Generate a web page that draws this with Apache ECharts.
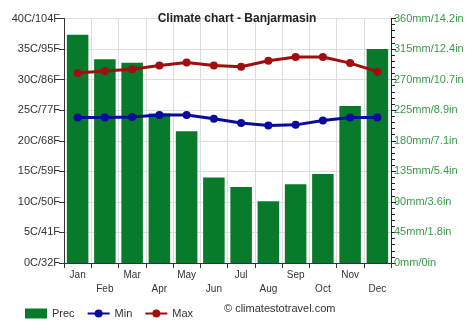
<!DOCTYPE html>
<html><head><meta charset="utf-8">
<script src="https://cdn.jsdelivr.net/npm/echarts@6/dist/echarts.min.js"></script>
<style>html,body{margin:0;padding:0;background:#fff}#c{width:474px;height:331px}</style>
</head><body><div id="c"></div>
<script>
const months = ['Jan','Feb','Mar','Apr','May','Jun','Jul','Aug','Sep','Oct','Nov','Dec'];
const prec = [336, 300, 295, 220, 194, 126, 112, 91, 116, 131, 231, 315];
const tMin = [23.8, 23.8, 23.9, 24.2, 24.2, 23.6, 22.9, 22.5, 22.6, 23.3, 23.8, 23.8];
const tMax = [31.1, 31.4, 31.7, 32.3, 32.8, 32.3, 32.1, 33.1, 33.7, 33.7, 32.7, 31.3];
const tempTicks = ['0C/32F','5C/41F','10C/50F','15C/59F','20C/68F','25C/77F','30C/86F','35C/95F','40C/104F'];
const precTicks = ['0mm/0in','45mm/1.8in','90mm/3.6in','135mm/5.4in','180mm/7.1in','225mm/8.9in','270mm/10.7in','315mm/12.4in','360mm/14.2in'];

const chart = echarts.init(document.getElementById('c'));
const font = 'Liberation Sans, Arial, sans-serif';
chart.setOption({
  animation: false,
  textStyle: {fontFamily: font},
  title: {text: 'Climate chart - Banjarmasin', left: 'center', top: 8,
    textStyle: {fontSize: 12, fontWeight: 'bold', color: '#222', fontFamily: font}},
  grid: {left: 64, right: 83, top: 18.5, bottom: 68},
  legend: {left: 20, top: 303, itemGap: 12, itemWidth: 22, itemHeight: 10,
    textStyle: {fontSize: 11, color: '#333', fontFamily: font},
    data: [{name: 'Prec', icon: 'rect'}, {name: 'Min'}, {name: 'Max'}]},
  graphic: [{type: 'text', left: 224, top: 303,
    style: {text: '© climatestotravel.com', fontSize: 11, fill: '#333', fontFamily: font}}],
  xAxis: {type: 'category', data: months, boundaryGap: true,
    axisLine: {lineStyle: {color: '#333'}},
    axisTick: {show: true, alignWithLabel: false, length: 5, lineStyle: {color: '#333'}},
    splitLine: {show: true, lineStyle: {color: '#ddd'}},
    axisLabel: {interval: 0, fontSize: 10, color: '#333', lineHeight: 14, margin: 5,
      formatter: (v, i) => (i % 2 === 1 ? '\n' + v : v)}},
  yAxis: [
    {type: 'value', min: 0, max: 40, interval: 5, position: 'left',
      axisLine: {show: true, lineStyle: {color: '#333'}},
      axisTick: {show: true, length: 5, lineStyle: {color: '#333'}},
      splitLine: {lineStyle: {color: '#ddd'}},
      axisLabel: {fontSize: 11, color: '#333', margin: 4,
        formatter: v => tempTicks[Math.round(v / 5)]}},
    {type: 'value', min: 0, max: 360, interval: 45, position: 'right',
      axisLine: {show: true, lineStyle: {color: '#222'}},
      axisTick: {show: true, length: 5, lineStyle: {color: '#222'}},
      minorTick: {show: true, splitNumber: 5, length: 4, lineStyle: {color: '#222'}},
      splitLine: {show: false},
      axisLabel: {fontSize: 11, color: '#3a9a4a', margin: 3,
        formatter: v => precTicks[Math.round(v / 45)]}}
  ],
  series: [
    {name: 'Prec', type: 'bar', yAxisIndex: 1, data: prec, barCategoryGap: '21%',
      itemStyle: {color: '#077a2b'}},
    {name: 'Min', type: 'line', yAxisIndex: 0, data: tMin, symbol: 'circle', symbolSize: 8,
      lineStyle: {color: '#0a0a9c', width: 3}, itemStyle: {color: '#0a0a9c'}},
    {name: 'Max', type: 'line', yAxisIndex: 0, data: tMax, symbol: 'circle', symbolSize: 8,
      lineStyle: {color: '#a00e0e', width: 3}, itemStyle: {color: '#a00e0e'}}
  ]
});
</script></body></html>
